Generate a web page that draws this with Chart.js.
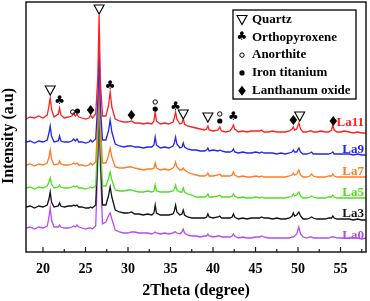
<!DOCTYPE html>
<html><head><meta charset="utf-8">
<script src="https://cdn.jsdelivr.net/npm/chart.js@4/dist/chart.umd.min.js"></script>
<style>html,body{margin:0;padding:0;background:#fff}#wrap{width:370px;height:301px}</style>
</head><body><div id="wrap"><canvas id="c" width="370" height="301"></canvas></div>
<script>
// 2Theta grid (degree)
const theta = [
 18.0,18.5,19.0,19.5,20.0,20.5,20.7,20.85,21.0,21.3,
 21.8,21.95,22.1,22.5,23.0,23.4,23.6,23.8,24.0,24.2,
 24.6,25.0,25.4,25.6,25.8,26.2,26.45,26.6,26.75,27.0,
 27.4,27.7,27.9,28.1,28.5,29.0,29.5,30.0,30.4,30.8,
 31.3,31.8,32.3,32.8,33.05,33.2,33.35,33.8,34.3,34.8,
 35.3,35.45,35.6,35.75,36.1,36.35,36.5,36.65,37.0,37.5,
 38.0,38.5,39.0,39.25,39.4,39.55,40.0,40.6,40.8,41.0,
 41.5,42.0,42.25,42.4,42.55,43.0,43.5,44.0,44.5,45.0,
 45.5,45.7,46.0,46.5,47.0,47.5,48.0,48.5,49.0,49.3,
 49.45,49.6,49.85,50.1,50.3,50.6,51.0,51.4,51.6,51.8,
 52.2,52.7,53.2,53.6,53.95,54.1,54.25,54.6,55.0,55.5,
 56.0,56.5,57.0,57.5,58.0];

// Intensities (a.u., stacked with offsets as in the figure)
const la11 = [
 133,135,134,136,134,137,146,154,143,135,
 138,144,137,134,135,136,139,136,138,135,
 134,133,134,137,134,138,175,237,170,136,
 136,146,160,145,133,131,130,130,131,129,
 129,128,129,128,131,140,131,128,129,128,
 130,134,140,133,128,129,133,128,126,125,
 124,123,122,123,126,122,121,122,125,121,
 120,121,124,127,123,120,121,120,121,121,
 121,122,120,120,121,120,120,120,121,123,
 125,122,123,129,123,120,120,121,121,120,
 120,121,120,120,122,127,122,120,120,121,
 120,119,120,119,119];
const la9 = [
 110,111,109,111,110,112,119,126,116,110,
 111,116,111,110,110,111,113,111,113,110,
 110,109,110,112,110,113,150,202,145,112,
 112,121,132,120,108,106,105,106,106,105,
 105,104,105,105,107,115,107,104,105,104,
 106,109,115,108,104,105,109,105,103,102,
 102,101,101,102,104,101,102,101,102,101,
 100,100,101,103,100,99,100,99,99,100,
 99,100,99,99,99,98,99,98,99,100,
 102,100,100,104,100,98,98,99,100,98,
 98,98,98,98,99,100,98,98,98,98,
 98,97,98,97,97];
const la7 = [
 87,88,86,88,87,89,95,102,93,87,
 88,91,88,87,87,88,89,88,89,87,
 87,86,87,89,87,90,130,192,128,89,
 89,96,104,95,85,84,84,85,85,84,
 83,82,83,83,84,89,84,82,83,82,
 84,86,90,85,82,82,84,82,80,78,
 77,76,76,77,79,76,76,77,78,76,
 76,76,77,80,77,75,76,75,75,76,
 75,76,75,75,75,75,75,75,76,77,
 79,77,78,82,77,75,75,76,78,76,
 75,75,75,76,76,78,76,75,75,75,
 75,75,75,75,75];
const la5 = [
 64,65,63,65,64,66,70,74,68,64,
 65,67,65,64,64,65,66,65,66,64,
 64,63,64,65,64,66,115,177,112,66,
 66,73,80,72,62,61,61,62,62,61,
 60,60,61,60,61,67,61,60,60,60,
 61,63,67,62,60,60,64,60,58,57,
 55,55,55,56,58,55,55,56,57,55,
 55,55,56,58,56,54,55,54,54,55,
 54,55,54,54,54,54,54,54,55,56,
 58,56,57,60,56,54,54,55,56,55,
 54,54,54,55,55,57,55,54,54,54,
 54,54,54,54,54];
const la3 = [
 45,46,44,46,45,47,53,60,50,45,
 46,49,46,45,46,46,47,46,47,45,
 45,44,44,45,44,47,100,162,98,47,
 47,56,65,55,42,40,39,39,40,38,
 38,37,38,37,39,47,39,37,37,37,
 38,41,47,40,37,38,42,37,35,34,
 34,34,34,35,38,35,34,35,36,34,
 34,34,35,38,35,33,34,33,34,34,
 34,35,34,34,33,34,33,33,34,36,
 39,36,37,40,36,33,33,34,35,34,
 33,33,33,34,34,36,34,33,33,33,
 33,32,33,32,32];
const la0 = [
 24,25,23,25,24,26,35,44,32,25,
 25,27,25,24,24,25,26,25,27,25,
 24,23,24,24,23,26,90,150,85,28,
 30,36,39,33,22,20,19,19,20,20,
 19,19,19,18,19,20,19,18,19,18,
 19,20,20,19,18,20,23,19,17,16,
 16,15,16,16,18,16,15,16,16,15,
 15,15,16,18,16,14,15,14,14,15,
 15,16,15,14,14,14,14,14,14,15,
 15,16,18,25,18,15,14,15,15,14,
 14,14,14,14,15,15,15,14,14,14,
 14,14,14,13,14];

const seriesNames = ['La11','La9','La7','La5','La3','La0'];
const seriesValues = [la11, la9, la7, la5, la3, la0];
const seriesColors = ['#ff1f1f','#2424f0','#ff7a22','#4ee01e','#111111','#b34cf0'];
const labelLevels = [129, 102, 80, 59, 38, 16];

const xTicks = [20,25,30,35,40,45,50,55];
const xMinorTicks = [22.5,27.5,32.5,37.5,42.5,47.5,52.5,57.5];

// Phase markers above peaks
const markTheta = [20.85,21.95,23.5,24.05,25.6,26.6,27.9,30.4,33.2,33.2,35.6,36.5,39.4,40.8,40.8,42.4,49.45,50.2,54.15];
const markLevel = [162,151,140,141,142,243,166,137,150,143,145,138,135,138,131,135,132,136,131];
const markType  = ['tri','club','ring','dot','dia','tri','club','dia','ring','dot','club','tri','tri','ring','dot','club','dia','tri','dia'];

const legendLabels = ['Quartz','Orthopyroxene','Anorthite','Iron titanium','Lanthanum oxide'];
const legendTypes = ['tri','club','ring','dot','dia'];

const SERIF = '"Liberation Serif","Times New Roman",serif';

function drawSym(ctx, type, x, y) {
  ctx.save();
  ctx.fillStyle = '#000'; ctx.strokeStyle = '#000';
  if (type === 'tri') {
    ctx.lineWidth = 1.1;
    ctx.beginPath();
    ctx.moveTo(x - 5, y - 4); ctx.lineTo(x + 5, y - 4); ctx.lineTo(x, y + 5); ctx.closePath();
    ctx.stroke();
  } else if (type === 'club') {
    ctx.font = 'bold 12px "DejaVu Sans"';
    ctx.textAlign = 'center'; ctx.textBaseline = 'middle';
    ctx.fillText('\u2663', x, y);
  } else if (type === 'ring') {
    ctx.lineWidth = 1;
    ctx.beginPath(); ctx.arc(x, y, 2.2, 0, Math.PI * 2); ctx.stroke();
  } else if (type === 'dot') {
    ctx.beginPath(); ctx.arc(x, y, 2.6, 0, Math.PI * 2); ctx.fill();
  } else if (type === 'dia') {
    ctx.beginPath();
    ctx.moveTo(x, y - 5); ctx.lineTo(x + 3.8, y); ctx.lineTo(x, y + 5); ctx.lineTo(x - 3.8, y); ctx.closePath();
    ctx.fill();
  }
  ctx.restore();
}

const decor = {
  id: 'decor',
  afterDatasetsDraw(chart) {
    const ctx = chart.ctx, a = chart.chartArea;
    const xs = chart.scales.x, ys = chart.scales.y;
    ctx.save();
    // frame
    ctx.strokeStyle = '#1a1a1a'; ctx.lineWidth = 1.5;
    ctx.strokeRect(a.left, a.top, a.right - a.left, a.bottom - a.top);
    // inward ticks
    ctx.lineWidth = 1.2;
    xTicks.forEach(v => { const px = xs.getPixelForValue(v); ctx.beginPath(); ctx.moveTo(px, a.bottom); ctx.lineTo(px, a.bottom - 5); ctx.stroke(); });
    xMinorTicks.forEach(v => { const px = xs.getPixelForValue(v); ctx.beginPath(); ctx.moveTo(px, a.bottom); ctx.lineTo(px, a.bottom - 3); ctx.stroke(); });
    // phase markers
    markTheta.forEach((t, i) => drawSym(ctx, markType[i], xs.getPixelForValue(t), ys.getPixelForValue(markLevel[i])));
    // series labels
    ctx.font = 'bold 13px ' + SERIF;
    ctx.textAlign = 'right'; ctx.textBaseline = 'middle';
    seriesNames.forEach((n, i) => { ctx.fillStyle = seriesColors[i]; ctx.fillText(n, a.right - 2, ys.getPixelForValue(labelLevels[i])); });
    // legend box
    const lx = 233, ly = 10, lw = 123, lh = 89;
    ctx.fillStyle = '#fff'; ctx.fillRect(lx, ly, lw, lh);
    ctx.strokeStyle = '#000'; ctx.lineWidth = 1.3; ctx.strokeRect(lx, ly, lw, lh);
    ctx.font = 'bold 13px ' + SERIF; ctx.textAlign = 'left'; ctx.fillStyle = '#000';
    legendLabels.forEach((t, i) => {
      const y = ly + 9.5 + i * 17.8;
      drawSym(ctx, legendTypes[i], lx + 9, y);
      ctx.fillStyle = '#000';
      ctx.fillText(t, lx + 19, y);
    });
    // axis titles
    ctx.font = 'bold 16px ' + SERIF; ctx.textAlign = 'center'; ctx.textBaseline = 'middle'; ctx.fillStyle = '#000';
    ctx.fillText('2Theta (degree)', (a.left + a.right) / 2, 291);
    ctx.translate(9, 136); ctx.rotate(-Math.PI / 2);
    ctx.fillText('Intensity (a.u)', 0, 0);
    ctx.restore();
  }
};

new Chart(document.getElementById('c'), {
  type: 'line',
  data: {
    datasets: seriesNames.map((n, i) => ({
      label: n,
      data: theta.map((t, j) => ({ x: t, y: seriesValues[i][j] })),
      borderColor: seriesColors[i],
      borderWidth: 1.3,
      pointRadius: 0,
      tension: 0,
      fill: false
    }))
  },
  options: {
    responsive: false,
    animation: false,
    devicePixelRatio: 1,
    layout: { padding: { top: 2, right: 4, left: 0, bottom: 0 } },
    plugins: { legend: { display: false }, tooltip: { enabled: false } },
    scales: {
      x: {
        type: 'linear', min: 18, max: 58,
        grid: { display: false, drawTicks: false },
        border: { display: false },
        afterBuildTicks: s => { s.ticks = xTicks.map(v => ({ value: v })); },
        afterFit: s => { s.height = 49; },
        ticks: { padding: 9, color: '#000', maxRotation: 0, font: { family: SERIF, size: 14, weight: 'bold' } }
      },
      y: {
        min: 0, max: 250,
        grid: { display: false, drawTicks: false },
        border: { display: false },
        ticks: { display: false },
        afterFit: s => { s.width = 26; }
      }
    }
  },
  plugins: [decor]
});
</script>
</body></html>
